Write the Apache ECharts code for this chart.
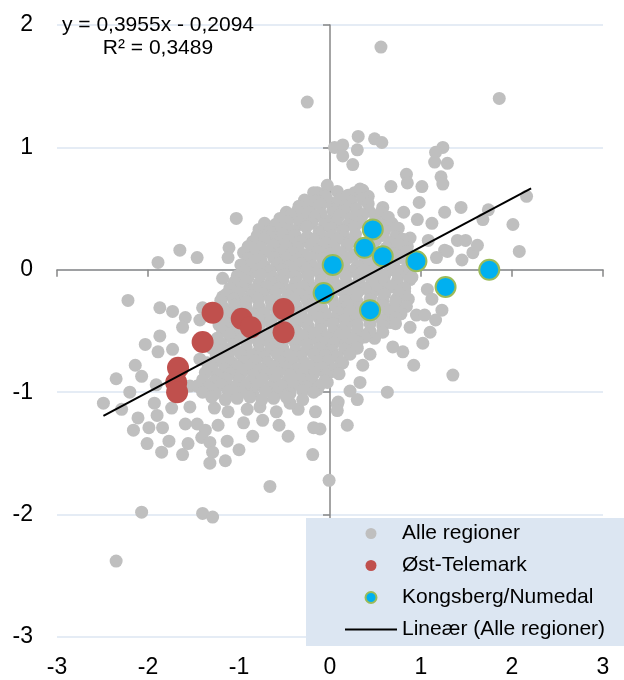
<!DOCTYPE html>
<html>
<head>
<meta charset="utf-8">
<script src="https://cdn.jsdelivr.net/npm/echarts@6/dist/echarts.min.js"></script>
<style>
html,body{margin:0;padding:0;background:#fff;}
#chart{width:624px;height:680px;}
</style>
</head>
<body>
<div id="chart"></div>
<script>
// ---- Data ----
const xRange = [-3, 3];
const yRange = [-3, 2];
const seriesNames = ['Alle regioner', 'Øst-Telemark', 'Kongsberg/Numedal', 'Lineær (Alle regioner)'];
const equationLines = ['y = 0,3955x - 0,2094', 'R² = 0,3489'];
const trendSlope = 0.3955;
const trendIntercept = -0.2094;
const trendXRange = [-2.49, 2.21];

const ostTelemark = [
  [-1.29,-0.35],[-0.97,-0.40],[-0.87,-0.47],[-0.51,-0.32],[-0.51,-0.51],
  [-1.40,-0.59],[-1.67,-0.80],[-1.69,-0.92],[-1.68,-1.00]
];

const kongsbergNumedal = [
  [0.47,0.33],[0.38,0.18],[0.58,0.11],[0.95,0.07],[0.03,0.04],
  [1.75,0.00],[-0.07,-0.19],[1.27,-0.14],[0.44,-0.33]
];

const alleRegioner = [
  // top / upper right
  [0.56,1.82],[1.86,1.40],[-0.25,1.37],
  [0.05,1.00],[0.14,1.02],[0.31,1.09],[0.49,1.07],[0.57,1.04],[0.14,0.93],[0.30,0.98],[0.25,0.86],
  [1.24,1.00],[1.16,0.96],[1.15,0.88],[1.29,0.87],[1.22,0.76],[1.24,0.70],[0.84,0.78],[0.85,0.71],
  [1.01,0.68],[0.67,0.68],[-0.03,0.69],[-0.11,0.61],[0.27,0.63],[0.36,0.65],[0.42,0.60],[0.98,0.55],
  [0.58,0.51],[0.81,0.47],[1.26,0.47],[1.44,0.51],[1.74,0.49],[2.16,0.60],[0.14,0.51],[0.00,0.55],[-0.14,0.57],
  [-1.03,0.42],[-0.36,0.42],[-0.27,0.46],[-0.14,0.63],
  // right side
  [1.68,0.41],[2.01,0.37],[2.08,0.15],[1.26,0.16],[1.45,0.08],[1.57,0.14],[1.62,0.20],[1.40,0.24],[1.49,0.24],
  [1.12,0.38],[0.96,0.41],[1.29,0.15],[1.17,0.10],[1.07,-0.16],[1.12,-0.24],[1.23,-0.33],[1.16,-0.41],
  [1.10,-0.51],[1.02,-0.60],[0.95,-0.37],[1.04,-0.37],[0.88,-0.47],[0.80,-0.67],[0.69,-0.63],[0.92,-0.78],
  [1.35,-0.86],[0.63,-1.00],[0.44,-0.69],[0.36,-0.78],[0.49,-0.56],[0.66,-0.43],[0.33,-0.92],[0.22,-0.99],
  [0.30,-1.06],[0.09,-1.08],[0.14,-0.76],[0.03,-0.83],[-0.03,-0.92],[-0.14,-0.98],[0.75,0.34],[0.88,0.26],
  [1.08,0.24],[0.69,0.22],[0.85,0.19],[0.80,-0.03],[0.88,-0.08],[0.82,-0.18],[0.73,-0.24],[0.63,-0.14],
  [0.77,-0.31],[0.66,-0.37],[0.52,-0.11],[0.33,-0.16],[0.22,-0.22],[0.14,-0.30],[0.25,-0.39],[0.14,-0.49],
  [0.33,-0.53],[0.00,-0.41],[-0.11,-0.33],[-0.14,-0.51],[0.00,-0.63],[0.22,-0.63],[-0.11,-0.71],[-0.19,-0.82],
  // lower middle
  [0.08,-1.10],[0.08,-1.15],[-0.16,-1.16],[-0.11,-1.30],[0.19,-1.27],[-0.19,-1.51],[-0.01,-1.72],
  // left side
  [-1.65,0.16],[-1.46,0.10],[-1.89,0.06],[-1.11,0.18],[-1.12,0.10],[-0.88,0.18],[-0.77,0.16],[-0.64,0.29],
  [-0.52,0.33],[-0.60,0.18],[-0.44,0.19],[-0.30,0.24],[-0.91,0.02],[-0.80,-0.02],[-1.18,-0.07],[-0.99,-0.08],
  [-2.22,-0.25],[-1.87,-0.31],[-1.73,-0.34],[-1.59,-0.39],[-1.18,-0.22],[-1.02,-0.27],[-1.40,-0.31],[-1.62,-0.47],
  [-1.87,-0.54],[-2.03,-0.61],[-1.89,-0.67],[-2.14,-0.78],[-2.07,-0.87],[-2.35,-0.89],[-2.20,-1.00],[-2.49,-1.09],
  [-1.91,-0.94],[-1.43,-0.41],[-1.73,-0.65],[-1.18,-0.63],[-1.10,-0.76],[-1.43,-0.73],[-1.24,-0.87],[-1.37,-0.98],
  [-1.54,-0.95],
  // lower left
  [-2.29,-1.14],[-2.11,-1.21],[-2.16,-1.31],[-1.99,-1.29],[-1.90,-1.19],[-1.84,-1.29],[-2.01,-1.42],[-1.77,-1.40],
  [-1.85,-1.49],[-1.93,-1.09],[-1.74,-1.13],[-1.54,-1.12],[-1.59,-1.26],[-1.56,-1.42],[-1.62,-1.51],[-1.46,-1.26],
  [-1.37,-1.31],[-1.41,-1.37],[-1.32,-1.41],[-1.23,-1.27],[-1.29,-1.49],[-1.32,-1.58],[-1.15,-1.56],[-1.13,-1.40],
  [-1.00,-1.47],[-1.12,-1.16],[-1.27,-1.13],[-0.95,-1.25],[-0.85,-1.36],[-0.91,-1.14],[-0.74,-1.23],[-0.77,-1.12],
  [-0.59,-1.16],[-0.56,-1.27],[-0.46,-1.36],[-0.35,-1.14],[-0.44,-1.09],[-0.18,-1.29],[-0.66,-1.77],[-2.07,-1.98],
  [-1.40,-1.99],[-1.29,-2.02],[-2.35,-2.38],
  // dense core
  [-0.18,0.63],[-0.05,0.60],[0.08,0.64],[0.20,0.61],[0.33,0.66],
  [-0.28,0.57],[-0.16,0.56],[-0.04,0.58],[0.10,0.57],[0.23,0.56],[0.36,0.58],
  [-0.34,0.52],[-0.22,0.50],[-0.10,0.53],[0.03,0.49],[0.17,0.52],[0.29,0.50],[0.42,0.54],
  [-0.48,0.47],[-0.36,0.48],[-0.23,0.47],[-0.10,0.46],[0.04,0.47],[0.16,0.48],[0.30,0.46],[0.43,0.48],[0.56,0.47],
  [-0.55,0.42],[-0.43,0.44],[-0.30,0.41],[-0.17,0.43],[-0.04,0.40],[0.10,0.44],[0.23,0.42],[0.36,0.45],[0.50,0.41],[0.64,0.43],
  [-0.72,0.38],[-0.60,0.37],[-0.47,0.39],[-0.33,0.37],[-0.20,0.38],[-0.06,0.37],[0.07,0.39],[0.20,0.37],[0.33,0.39],[0.55,0.37],[0.68,0.38],
  [-0.78,0.33],[-0.66,0.31],[-0.53,0.34],[-0.40,0.32],[-0.26,0.35],[-0.12,0.31],[0.01,0.34],[0.14,0.32],[0.27,0.35],[0.60,0.32],[0.73,0.34],
  [-0.80,0.28],[-0.66,0.27],[-0.52,0.29],[-0.38,0.28],[-0.25,0.27],[-0.11,0.29],[0.02,0.28],[0.15,0.27],[0.28,0.29],[0.58,0.28],[0.72,0.27],
  [-0.85,0.23],[-0.72,0.25],[-0.58,0.22],[-0.45,0.24],[-0.32,0.23],[-0.18,0.25],[-0.05,0.22],[0.08,0.25],[0.22,0.23],[0.50,0.24],[0.66,0.22],[0.80,0.25],
  [-0.90,0.19],[-0.76,0.18],[-0.62,0.20],[-0.48,0.19],[-0.35,0.18],[-0.21,0.20],[-0.08,0.19],[0.05,0.18],[0.19,0.20],[0.45,0.19],[0.62,0.18],[0.76,0.20],
  [-0.95,0.14],[-0.82,0.12],[-0.68,0.15],[-0.55,0.13],[-0.41,0.14],[-0.28,0.12],[-0.14,0.15],[-0.01,0.13],[0.12,0.14],[0.26,0.12],[0.48,0.14],[0.70,0.13],[0.84,0.15],
  [-0.90,0.09],[-0.76,0.08],[-0.62,0.10],[-0.48,0.09],[-0.35,0.08],[-0.21,0.10],[-0.08,0.09],[0.08,0.08],[0.20,0.10],[0.38,0.09],[0.62,0.08],[0.78,0.10],
  [-0.98,0.04],[-0.85,0.05],[-0.72,0.03],[-0.58,0.05],[-0.45,0.03],[-0.32,0.05],[-0.19,0.03],[-0.06,0.06],[0.15,0.05],[0.30,0.03],[0.45,0.05],[0.70,0.04],[0.85,0.02],
  [-0.94,-0.01],[-0.80,0.00],[-0.66,-0.01],[-0.52,0.00],[-0.39,-0.01],[-0.26,0.00],[-0.13,-0.01],[0.10,0.00],[0.24,-0.01],[0.38,0.00],[0.52,-0.01],[0.66,0.00],[0.80,-0.01],
  [-1.02,-0.05],[-0.90,-0.06],[-0.76,-0.04],[-0.63,-0.06],[-0.50,-0.04],[-0.37,-0.06],[-0.24,-0.05],[-0.10,-0.04],[0.03,-0.06],[0.17,-0.05],[0.31,-0.04],[0.45,-0.06],[0.60,-0.05],[0.75,-0.04],[0.90,-0.06],
  [-1.05,-0.10],[-0.92,-0.09],[-0.78,-0.11],[-0.65,-0.10],[-0.52,-0.09],[-0.38,-0.11],[-0.24,-0.10],[-0.10,-0.09],[0.05,-0.11],[0.18,-0.10],[0.32,-0.09],[0.46,-0.11],[0.60,-0.10],[0.74,-0.09],
  [-1.10,-0.15],[-0.96,-0.14],[-0.83,-0.16],[-0.70,-0.14],[-0.56,-0.15],[-0.43,-0.16],[-0.30,-0.14],[-0.16,-0.15],[-0.03,-0.13],[0.10,-0.16],[0.24,-0.14],[0.38,-0.15],[0.52,-0.16],[0.68,-0.14],[0.82,-0.15],
  [-1.14,-0.20],[-1.00,-0.19],[-0.87,-0.21],[-0.74,-0.20],[-0.60,-0.19],[-0.46,-0.21],[-0.33,-0.20],[-0.20,-0.19],[-0.06,-0.21],[0.17,-0.20],[0.30,-0.19],[0.45,-0.21],[0.60,-0.20],[0.76,-0.19],
  [-1.20,-0.25],[-1.06,-0.24],[-0.92,-0.26],[-0.79,-0.24],[-0.65,-0.25],[-0.52,-0.26],[-0.39,-0.24],[-0.25,-0.25],[-0.12,-0.26],[0.02,-0.24],[0.16,-0.25],[0.30,-0.26],[0.44,-0.24],[0.58,-0.25],[0.72,-0.26],[0.86,-0.24],
  [-1.18,-0.30],[-1.05,-0.29],[-0.92,-0.31],[-0.78,-0.30],[-0.64,-0.29],[-0.50,-0.31],[-0.37,-0.30],[-0.23,-0.29],[-0.09,-0.31],[0.06,-0.30],[0.20,-0.29],[0.32,-0.31],[0.46,-0.30],[0.58,-0.29],[0.70,-0.31],[0.84,-0.30],
  [-1.25,-0.35],[-1.12,-0.36],[-0.98,-0.34],[-0.85,-0.36],[-0.72,-0.35],[-0.58,-0.34],[-0.45,-0.36],[-0.32,-0.35],[-0.18,-0.34],[-0.05,-0.36],[0.09,-0.35],[0.22,-0.34],[0.36,-0.36],[0.50,-0.35],[0.64,-0.34],[0.78,-0.36],
  [-1.18,-0.40],[-1.05,-0.41],[-0.92,-0.39],[-0.78,-0.40],[-0.65,-0.41],[-0.52,-0.39],[-0.38,-0.40],[-0.25,-0.41],[-0.12,-0.39],[0.04,-0.40],[0.16,-0.41],[0.30,-0.39],[0.43,-0.40],[0.57,-0.41],[0.72,-0.39],
  [-1.22,-0.45],[-1.10,-0.44],[-1.04,-0.46],[-0.90,-0.45],[-0.77,-0.44],[-0.64,-0.46],[-0.50,-0.45],[-0.37,-0.44],[-0.24,-0.46],[-0.10,-0.45],[0.03,-0.44],[0.17,-0.46],[0.30,-0.45],[0.44,-0.44],[0.58,-0.46],[0.72,-0.44],
  [-1.18,-0.50],[-1.04,-0.51],[-0.90,-0.49],[-0.77,-0.50],[-0.64,-0.51],[-0.50,-0.49],[-0.37,-0.50],[-0.24,-0.51],[-0.10,-0.49],[0.04,-0.50],[0.17,-0.51],[0.30,-0.49],[0.44,-0.50],[0.58,-0.51],
  [-1.24,-0.56],[-1.10,-0.54],[-0.97,-0.56],[-0.84,-0.55],[-0.70,-0.54],[-0.57,-0.56],[-0.44,-0.55],[-0.30,-0.54],[-0.17,-0.56],[-0.04,-0.55],[0.10,-0.54],[0.24,-0.56],[0.38,-0.55],
  [-1.20,-0.60],[-1.06,-0.61],[-0.92,-0.59],[-0.78,-0.60],[-0.65,-0.61],[-0.52,-0.59],[-0.38,-0.60],[-0.25,-0.61],[-0.11,-0.59],[0.04,-0.60],[0.17,-0.61],[0.30,-0.59],
  [-1.30,-0.64],[-1.18,-0.66],[-1.05,-0.65],[-0.92,-0.64],[-0.78,-0.66],[-0.65,-0.65],[-0.52,-0.64],[-0.38,-0.66],[-0.25,-0.65],[-0.12,-0.64],[0.02,-0.66],[0.16,-0.65],[0.30,-0.64],
  [-1.25,-0.70],[-1.12,-0.71],[-0.98,-0.69],[-0.85,-0.70],[-0.72,-0.71],[-0.58,-0.69],[-0.45,-0.70],[-0.32,-0.71],[-0.18,-0.69],[-0.05,-0.70],[0.08,-0.71],[0.22,-0.69],
  [-1.35,-0.76],[-1.22,-0.74],[-1.08,-0.76],[-0.95,-0.75],[-0.82,-0.74],[-0.68,-0.76],[-0.55,-0.75],[-0.42,-0.74],[-0.28,-0.76],[-0.15,-0.75],[-0.02,-0.74],[0.12,-0.76],
  [-1.30,-0.80],[-1.16,-0.81],[-1.02,-0.79],[-0.89,-0.80],[-0.76,-0.81],[-0.62,-0.79],[-0.49,-0.80],[-0.36,-0.81],[-0.22,-0.79],[-0.09,-0.80],[0.05,-0.81],
  [-1.37,-0.84],[-1.24,-0.86],[-1.10,-0.85],[-0.97,-0.84],[-0.84,-0.86],[-0.70,-0.85],[-0.57,-0.84],[-0.44,-0.86],[-0.30,-0.85],[-0.17,-0.84],[-0.04,-0.86],[0.10,-0.85],
  [-1.40,-0.90],[-1.27,-0.91],[-1.14,-0.89],[-1.00,-0.90],[-0.87,-0.91],[-0.74,-0.89],[-0.60,-0.90],[-0.47,-0.91],[-0.33,-0.89],[-0.20,-0.90],[-0.06,-0.91],
  [-1.46,-0.95],[-1.33,-0.96],[-1.20,-0.94],[-1.06,-0.96],[-0.93,-0.95],[-0.80,-0.94],[-0.66,-0.96],[-0.53,-0.95],[-0.40,-0.94],[-0.26,-0.96],[-0.12,-0.95],
  [-1.40,-1.00],[-1.26,-1.01],[-1.12,-0.99],[-0.98,-1.00],[-0.85,-1.01],[-0.71,-0.99],[-0.58,-1.00],[-0.44,-1.01],[-0.30,-0.99],[-0.18,-1.00],
  [-1.30,-1.04],[-1.15,-1.06],[-1.02,-1.05],[-0.88,-1.04],[-0.75,-1.06],[-0.62,-1.05],[-0.48,-1.04],[-0.30,-1.06]
];

// ---- Chart ----
const FONT = '"Liberation Sans", Arial, Helvetica, sans-serif';
const AXIS_GRAY = '#868686';
const trendData = trendXRange.map(x => [x, trendSlope * x + trendIntercept]);

const chart = echarts.init(document.getElementById('chart'), null, {renderer: 'canvas'});
chart.setOption({
  animation: false,
  backgroundColor: '#ffffff',
  textStyle: {fontFamily: FONT},
  grid: {left: 57, right: 21, top: 25, bottom: 43, containLabel: false},
  xAxis: [
    {type: 'value', min: xRange[0], max: xRange[1], interval: 1, position: 'bottom',
     axisLine: {show: false, onZero: false}, axisTick: {show: false}, splitLine: {show: false},
     axisLabel: {fontSize: 23, color: '#000', margin: 19, fontFamily: FONT}},
    {type: 'value', min: xRange[0], max: xRange[1], interval: 1, position: 'bottom',
     axisLine: {show: true, onZero: true, onZeroAxisIndex: 0, lineStyle: {color: AXIS_GRAY, width: 1.5}},
     axisTick: {show: true, length: 7, lineStyle: {color: AXIS_GRAY, width: 1.5}},
     axisLabel: {show: false}, splitLine: {show: false}}
  ],
  yAxis: [
    {type: 'value', min: yRange[0], max: yRange[1], interval: 1, position: 'left',
     axisLine: {show: false, onZero: false}, axisTick: {show: false},
     splitLine: {show: true, lineStyle: {color: '#dce6f2', width: 1.5}},
     axisLabel: {fontSize: 23, color: '#000', margin: 24, fontFamily: FONT}},
    {type: 'value', min: yRange[0], max: yRange[1], interval: 1, position: 'left',
     axisLine: {show: true, onZero: true, onZeroAxisIndex: 0, lineStyle: {color: AXIS_GRAY, width: 1.5}},
     axisTick: {show: true, length: 7, lineStyle: {color: AXIS_GRAY, width: 1.5}},
     axisLabel: {show: false}, splitLine: {show: false}}
  ],
  legend: {
    orient: 'vertical', left: 306, top: 518,
    padding: [5, 60, 6, 39],
    backgroundColor: '#dce6f2',
    itemWidth: 52, itemHeight: 11, itemGap: 11,
    selectedMode: false,
    textStyle: {fontSize: 21, lineHeight: 21, color: '#000', fontFamily: FONT},
    data: [
      {name: seriesNames[0], icon: 'circle'},
      {name: seriesNames[1], icon: 'circle'},
      {name: seriesNames[2], icon: 'circle'},
      {name: seriesNames[3], icon: 'path://M0,0H52V2H0Z'}
    ]
  },
  graphic: [
    {type: 'text', x: 158, y: 25, z: 10,
     style: {text: equationLines[0], fontSize: 21, fontFamily: FONT, fill: '#000', align: 'center', verticalAlign: 'middle'}},
    {type: 'text', x: 158, y: 48, z: 10,
     style: {text: equationLines[1], fontSize: 21, fontFamily: FONT, fill: '#000', align: 'center', verticalAlign: 'middle'}}
  ],
  series: [
    {name: seriesNames[0], type: 'scatter', xAxisIndex: 0, yAxisIndex: 0, data: alleRegioner,
     symbol: 'circle', symbolSize: 13, itemStyle: {color: '#bfbfbf', opacity: 1}, z: 2},
    {name: seriesNames[1], type: 'scatter', xAxisIndex: 0, yAxisIndex: 0, data: ostTelemark,
     symbol: 'circle', symbolSize: 22, itemStyle: {color: '#c0504d', opacity: 1}, z: 3},
    {name: seriesNames[2], type: 'scatter', xAxisIndex: 0, yAxisIndex: 0, data: kongsbergNumedal,
     symbol: 'circle', symbolSize: 20, itemStyle: {color: '#00b0f0', borderColor: '#9bbb59', borderWidth: 2, opacity: 1}, z: 4},
    {name: seriesNames[3], type: 'line', xAxisIndex: 0, yAxisIndex: 0, data: trendData,
     symbol: 'none', showSymbol: false, itemStyle: {color: '#000'},
     lineStyle: {color: '#000', width: 2}, z: 5}
  ]
});
</script>
</body>
</html>
